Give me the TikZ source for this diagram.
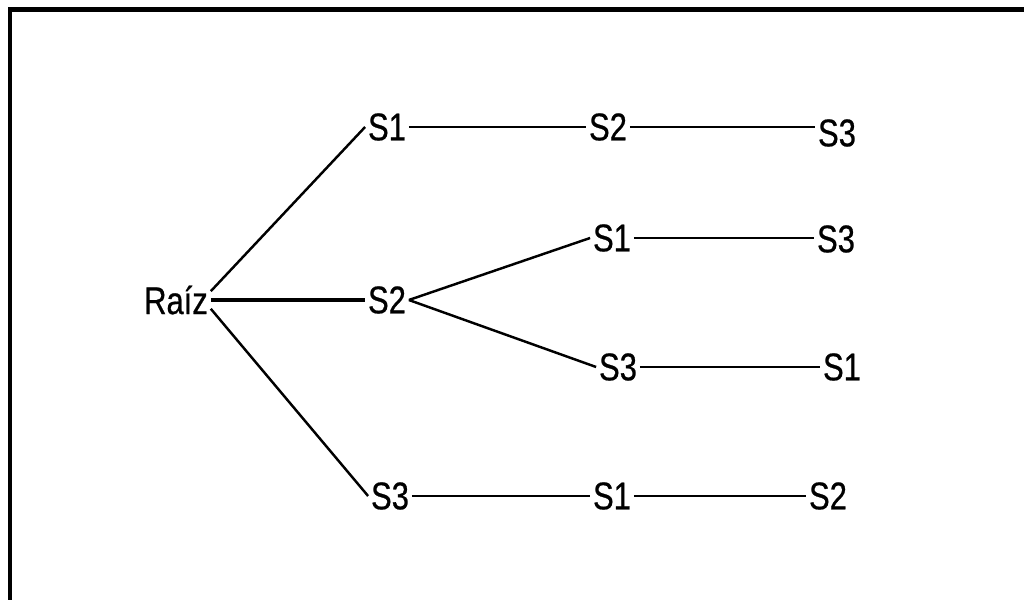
\documentclass[tikz,border=0pt]{standalone}
\usepackage{fontspec}
\setmainfont[FakeStretch=0.8,FakeBold=0.6]{Liberation Sans}
\begin{document}
\begin{tikzpicture}[
  every node/.style={inner sep=1.5pt, font=\fontsize{22}{24}\selectfont},
  rama/.style={line width=1.4pt},
  ramaraiz/.style={line width=2pt}]
\useasboundingbox (0,0) rectangle (20.48,12);
% frame, top and left edges only
\draw[line width=2.3pt] (0.2,0) -- (0.2,11.81) -- (20.48,11.81);

\node (raiz) at (3.52,6.0) {Raíz};

% first level
\node (sa1) at (7.74,9.46) {S1};
\node (sb2) at (7.74,6.0) {S2};
\node (sd3) at (7.80,2.08) {S3};

% second level
\node (sa2) at (12.16,9.46) {S2};
\node (sb1) at (12.24,7.24) {S1};
\node (sc3) at (12.36,4.66) {S3};
\node (sd1) at (12.24,2.08) {S1};

% third level
\node (sa3) at (16.74,9.34) {S3};
\node (sb3) at (16.72,7.22) {S3};
\node (sc1) at (16.84,4.66) {S1};
\node (sd2) at (16.56,2.08) {S2};

\draw[rama] ([yshift=5pt]raiz.east) -- (sa1.west);
\draw[ramaraiz] (raiz.east) -- (sb2.west);
\draw[rama] ([yshift=-5pt]raiz.east) -- (sd3.west);

\draw[rama] (sa1) -- (sa2);
\draw[rama] (sa2.east) -- (sa2.east -| sa3.west);
\draw[rama] (sb2.east) -- (sb1.west);
\draw[rama] (sb2.east) -- (sc3.west);
\draw[rama] (sb1.east) -- (sb1.east -| sb3.west);
\draw[rama] (sc3) -- (sc1);
\draw[rama] (sd3) -- (sd1) -- (sd2);
\end{tikzpicture}
\end{document}
